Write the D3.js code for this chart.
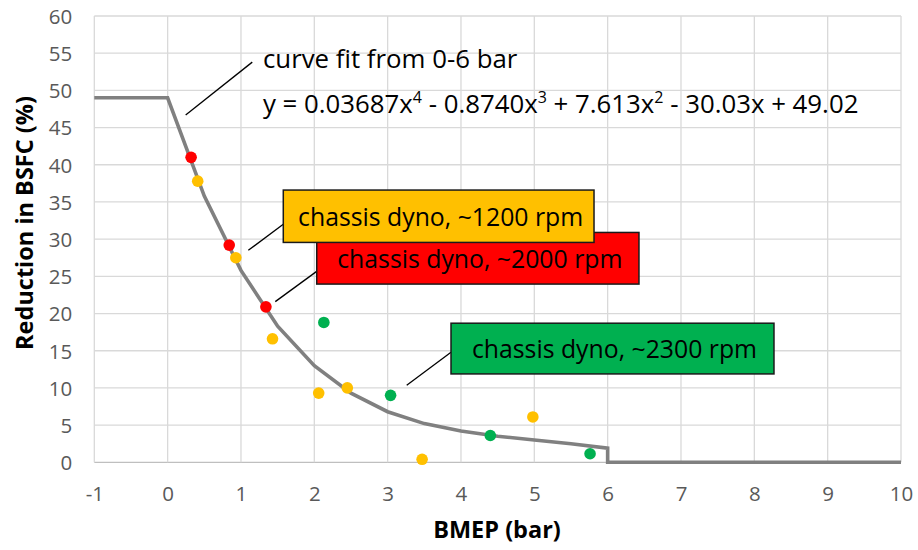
<!DOCTYPE html>
<html>
<head>
<meta charset="utf-8">
<script src="https://cdn.jsdelivr.net/npm/d3@7"></script>
<style>
  html, body { margin: 0; padding: 0; background: #fff; }
  svg { display: block; font-family: "Open Sans", Lato, sans-serif; }
</style>
</head>
<body>
<svg id="chart" width="918" height="550"></svg>
<script>
// ---- data ----
const xTicks = [-1, 0, 1, 2, 3, 4, 5, 6, 7, 8, 9, 10];
const yTicks = [0, 5, 10, 15, 20, 25, 30, 35, 40, 45, 50, 55, 60];

// curve fit line
const fitX = [-1, 0, 0.5, 1, 1.5, 2, 2.5, 3, 3.5, 4, 4.5, 5, 5.5, 6, 6, 10];
const fitY = [49, 49, 35.8, 25.8, 18.3, 13.0, 9.3, 6.8, 5.2, 4.2, 3.5, 3.0, 2.5, 1.9, 0, 0];

// chassis dyno ~2000 rpm (red)
const redX = [0.32, 0.84, 1.34];
const redY = [41.0, 29.2, 20.9];
// chassis dyno ~1200 rpm (yellow)
const yellowX = [0.41, 0.93, 1.43, 2.06, 2.45, 3.47, 4.98];
const yellowY = [37.8, 27.5, 16.6, 9.3, 10.0, 0.4, 6.1];
// chassis dyno ~2300 rpm (green)
const greenX = [2.13, 3.04, 4.40, 5.76];
const greenY = [18.8, 9.0, 3.6, 1.15];

const labels = ["chassis dyno, ~1200 rpm", "chassis dyno, ~2000 rpm", "chassis dyno, ~2300 rpm"];
const colors = ["#FFC000", "#FF0000", "#00B050"];

// ---- layout ----
const svg = d3.select("#chart");
const M = { left: 94.3, right: 901, top: 16, bottom: 462.3 };
const x = d3.scaleLinear().domain([-1, 10]).range([M.left, M.right]);
const y = d3.scaleLinear().domain([0, 60]).range([M.bottom, M.top]);

// gridlines
const grid = svg.append("g");
grid.selectAll("line.h").data(yTicks).join("line")
  .attr("x1", M.left).attr("x2", M.right)
  .attr("y1", d => y(d)).attr("y2", d => y(d))
  .attr("stroke", d => d === 0 ? "#BFBFBF" : "#D9D9D9").attr("stroke-width", 1.3);
grid.selectAll("line.v").data(xTicks).join("line")
  .attr("y1", M.top).attr("y2", M.bottom)
  .attr("x1", d => x(d)).attr("x2", d => x(d))
  .attr("stroke", "#D9D9D9").attr("stroke-width", 1.3);

// axes tick labels
const fmt = d => String(d);
const xAxis = d3.axisBottom(x).tickValues(xTicks).tickSize(0).tickPadding(0).tickFormat(fmt);
const gx = svg.append("g").attr("transform", `translate(0,${M.bottom})`).call(xAxis);
gx.select(".domain").remove();
gx.selectAll("text").attr("y", 39).attr("dy", null)
  .attr("font-size", 20.5).attr("fill", "#595959").attr("font-family", "'Open Sans', sans-serif");

const yAxis = d3.axisLeft(y).tickValues(yTicks).tickSize(0).tickPadding(0).tickFormat(fmt);
const gy = svg.append("g").attr("transform", `translate(${M.left},0)`).call(yAxis);
gy.select(".domain").remove();
gy.selectAll("text").attr("x", -22).attr("dy", "0.36em")
  .attr("font-size", 20.5).attr("fill", "#595959").attr("font-family", "'Open Sans', sans-serif");

// axis titles
svg.append("text").attr("x", 497).attr("y", 538)
  .attr("text-anchor", "middle").attr("font-size", 23.5).attr("font-weight", "bold")
  .attr("fill", "#000").text("BMEP (bar)");
svg.append("text")
  .attr("transform", `translate(33,223) rotate(-90)`)
  .attr("text-anchor", "middle").attr("font-size", 23.5).attr("font-weight", "bold")
  .attr("fill", "#000").text("Reduction in BSFC (%)");

// fit line
const fitData = fitX.map((d, i) => [d, fitY[i]]);
svg.append("path").datum(fitData)
  .attr("d", d3.line().x(d => x(d[0])).y(d => y(d[1])))
  .attr("fill", "none").attr("stroke", "#808080").attr("stroke-width", 3.6)
  .attr("stroke-linejoin", "miter");

// points
function drawPts(xs, ys, col) {
  svg.append("g").selectAll("circle").data(xs.map((d, i) => [d, ys[i]])).join("circle")
    .attr("cx", d => x(d[0])).attr("cy", d => y(d[1])).attr("r", 5.8).attr("fill", col);
}
drawPts(redX, redY, colors[1]);
drawPts(yellowX, yellowY, colors[0]);
drawPts(greenX, greenY, colors[2]);

// ---- annotations (positions in data units) ----
const leaders = [
  [0.246, 46.7, 1.154, 53.8],
  [1.10, 28.5, 1.577, 32.0],
  [1.468, 21.6, 2.037, 25.7],
  [3.26, 10.36, 3.864, 14.8]
];
svg.append("g").selectAll("line").data(leaders).join("line")
  .attr("x1", d => x(d[0])).attr("y1", d => y(d[1]))
  .attr("x2", d => x(d[2])).attr("y2", d => y(d[3]))
  .attr("stroke", "#000").attr("stroke-width", 1.3);

// boxes: [x0, yTop, x1, yBottom] in data units; draw red first so yellow overlaps it
const boxes = [
  [1.577, 36.6, 5.814, 29.56],
  [2.033, 30.9, 6.427, 23.96],
  [3.864, 18.7, 8.268, 11.88]
];
const order = [1, 0, 2];
order.forEach(i => {
  const b = boxes[i];
  const g = svg.append("g");
  g.append("rect").attr("x", x(b[0])).attr("y", y(b[1]))
    .attr("width", x(b[2]) - x(b[0])).attr("height", y(b[3]) - y(b[1]))
    .attr("fill", colors[i]).attr("stroke", "#1a1a1a").attr("stroke-width", 1.5);
  g.append("text").attr("x", (x(b[0]) + x(b[2])) / 2 + 2).attr("y", (y(b[1]) + y(b[3])) / 2)
    .attr("dy", "0.38em").attr("text-anchor", "middle").attr("font-size", 24.8)
    .attr("fill", "#000").text(labels[i]);
});

// curve fit text
svg.append("text").attr("x", x(1.30)).attr("y", y(53.07))
  .attr("font-size", 25.8).attr("fill", "#000").text("curve fit from 0-6 bar");
const eq = svg.append("text").attr("x", x(1.30)).attr("y", y(46.9))
  .attr("font-size", 25.8).attr("fill", "#000");
const parts = [["y = 0.03687x", ""], ["4", "sup"], [" - 0.8740x", ""], ["3", "sup"],
  [" + 7.613x", ""], ["2", "sup"], [" - 30.03x + 49.02", ""]];
parts.forEach((p, k) => {
  const t = eq.append("tspan").text(p[0]);
  if (p[1] === "sup") t.attr("font-size", 16).attr("dy", -10);
  else if (k > 0) t.attr("dy", 10);
});
</script>
</body>
</html>
